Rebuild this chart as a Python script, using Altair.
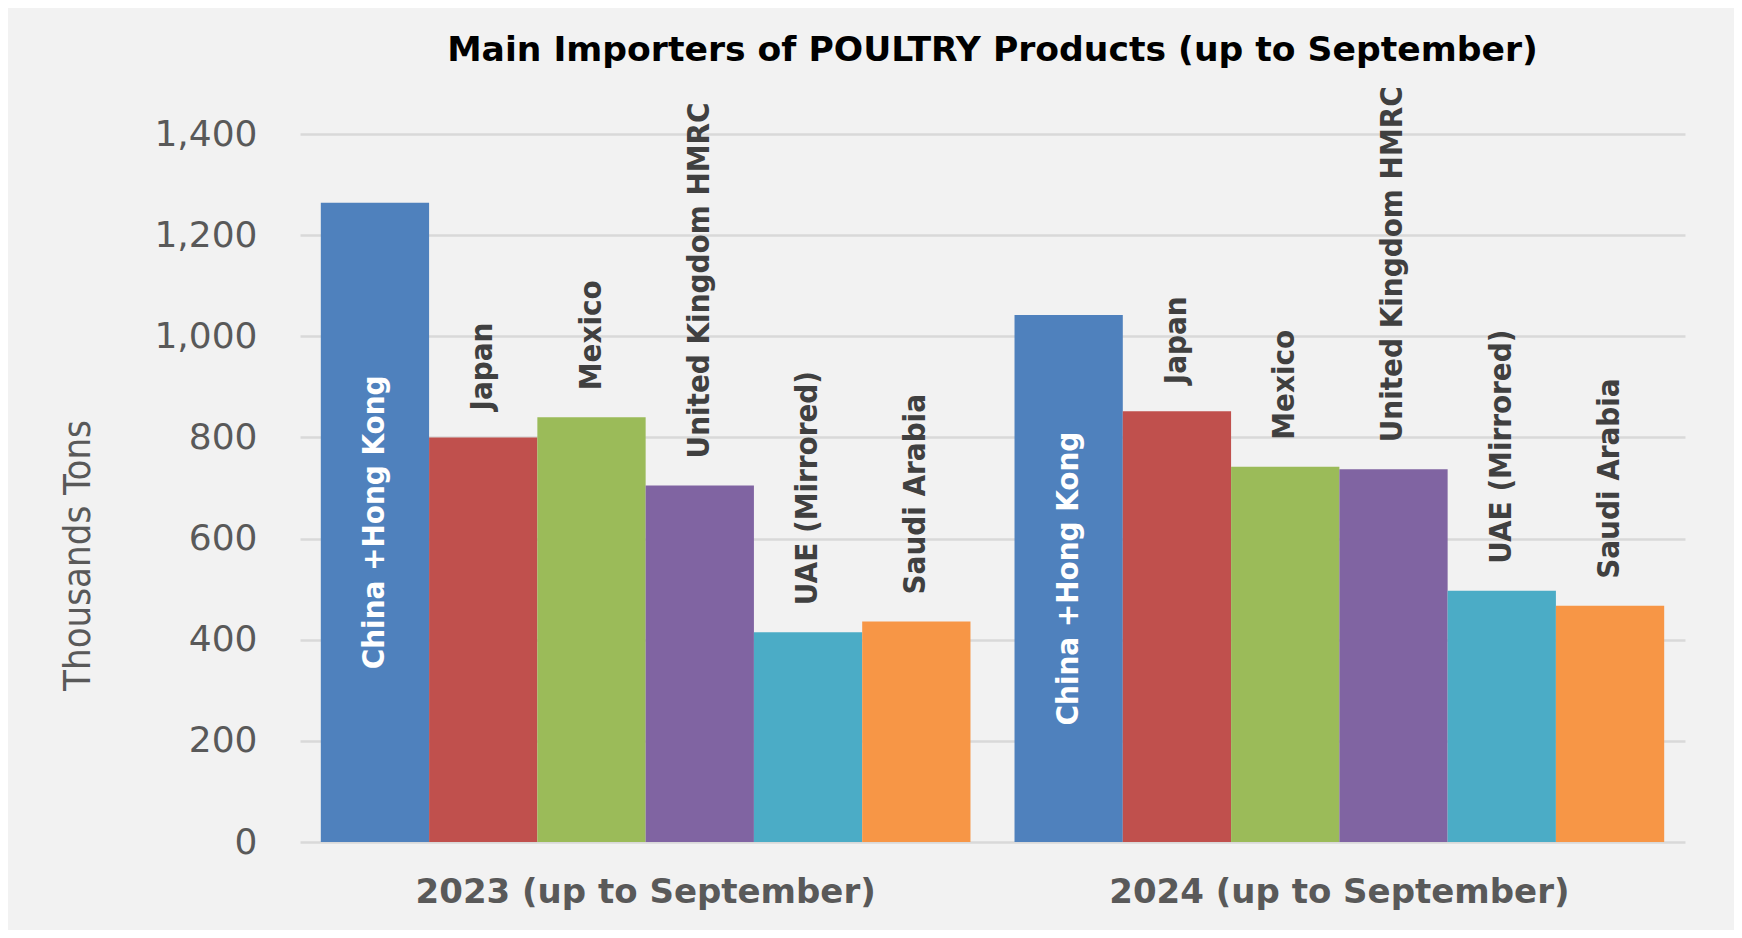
import altair as alt
import pandas as pd

countries = ["China +Hong Kong", "Japan", "Mexico", "United Kingdom HMRC", "UAE (Mirrored)", "Saudi Arabia"]
periods = ["2023 (up to September)", "2024 (up to September)"]
values_2023 = [1264, 800, 840, 705, 415, 436]
values_2024 = [1042, 852, 742, 737, 497, 467]
colors = ["#4f81bd", "#c0504d", "#9bbb59", "#8064a2", "#4bacc6", "#f79646"]
y_ticks = [0, 200, 400, 600, 800, 1000, 1200, 1400]

COND = "DejaVu Sans Condensed, Liberation Sans Narrow, sans-serif"

rows = []
for p, vals in zip(periods, [values_2023, values_2024]):
    for c, v in zip(countries, vals):
        rows.append({"period": p, "country": c, "value": v})
df = pd.DataFrame(rows)

x_enc = alt.X("period:N", sort=periods, title=None,
              scale=alt.Scale(paddingInner=0.0635, paddingOuter=0.03),
              axis=alt.Axis(labelAngle=0, domain=False, ticks=False, labelPadding=33, labelLimit=1000,
                            labelFont="DejaVu Sans", labelFontSize=34, labelFontWeight="bold",
                            labelColor="#595959"))
xo_enc = alt.XOffset("country:N", sort=countries, scale=alt.Scale(paddingInner=0, paddingOuter=0))
y_enc = alt.Y("value:Q", title="Thousands Tons",
              scale=alt.Scale(domain=[0, 1400], nice=False),
              axis=alt.Axis(values=y_ticks, format=",d", domain=False, ticks=False,
                            labelPadding=43, labelFont="DejaVu Sans", labelFontSize=36,
                            labelColor="#595959", gridColor="#d9d9d9", gridWidth=2.5,
                            titleFont=COND, titleFontSize=38,
                            titleFontWeight="normal", titleColor="#595959",
                            titleX=-203, titleY=421, titleAngle=-90, titleBaseline="bottom"))

base = alt.Chart(df)

bars = base.mark_bar(stroke=None).encode(
    x=x_enc, xOffset=xo_enc, y=y_enc,
    color=alt.Color("country:N", sort=countries,
                    scale=alt.Scale(domain=countries, range=colors), legend=None),
)

labels_out = base.transform_filter(alt.datum.country != countries[0]).mark_text(
    angle=270, align="left", baseline="middle", dx=27,
    font=COND, fontSize=31, fontWeight="bold", color="#404040",
).encode(x=alt.X("period:N", sort=periods), xOffset=alt.XOffset("country:N", sort=countries),
         y=alt.Y("value:Q"), text="country:N")

labels_in = base.transform_filter(alt.datum.country == countries[0]).transform_calculate(
    mid="datum.value / 2"
).mark_text(
    angle=270, align="center", baseline="middle",
    font=COND, fontSize=31, fontWeight="bold", color="white",
).encode(x=alt.X("period:N", sort=periods), xOffset=alt.XOffset("country:N", sort=countries),
         y=alt.Y("mid:Q"), text="country:N")

chart = alt.layer(bars, labels_out, labels_in).properties(
    width=1385, height=708,
    title=alt.TitleParams("Main Importers of POULTRY Products (up to September)",
                          font="DejaVu Sans", fontSize=34.6, fontWeight="bold", color="black",
                          anchor="middle", frame="group", offset=18),
    background="#f2f2f2",
    padding={"left": 292, "top": 126, "right": 49, "bottom": 88},
    autosize=alt.AutoSizeParams(type="none"),
).configure_view(stroke=None)

chart.save("out.html", embed_options={"renderer": "svg", "actions": False})
